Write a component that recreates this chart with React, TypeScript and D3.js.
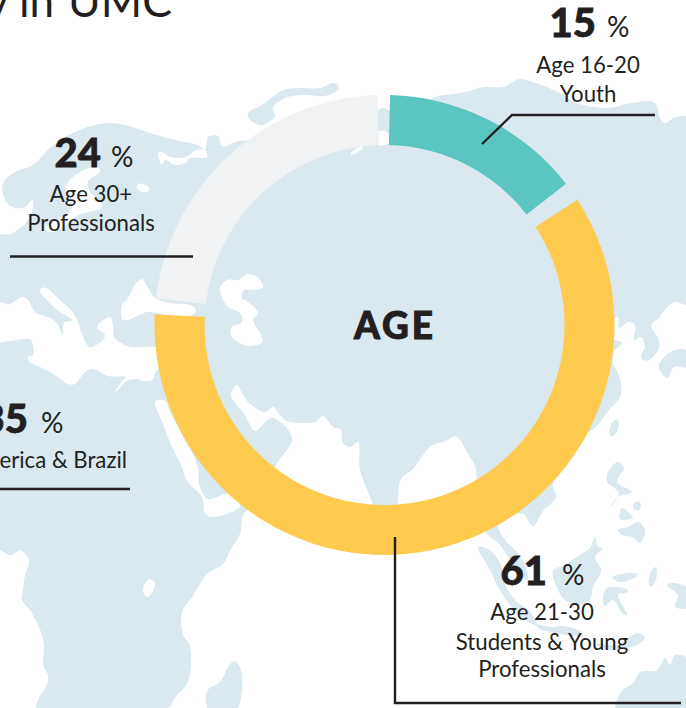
import React from "react";
import * as d3 from "d3";

// ---- chart data ----
const segmentNames = ["Age 16-20", "Age 21-30", "Age 30+"];
const segmentShares = [15, 61, 24];
const segmentColors = ["#5bc5c0", "#fecb4f", "#f1f2f4"];

const centerLabel = "AGE";
const titleWords = ["y", "in", "UMC"];

type P = [number, number];
const W = 686, H = 708;
const INK = "#231f20";
const LAND = "#dae9f0";
const BODY = "Lato, 'Noto Sans', sans-serif";

// ---- decorative world map backdrop, traced in page pixels ----
const landShapes: P[][] = [
  [[3,183],[15,172],[33,165],[48,150],[65,137],[95,125],[120,124],[150,133],[175,140],[197,145],[205,149],[208,137],[218,136],[222,146],[240,141],[270,140],[350,120],[378,110],[383,108],[395,112],[420,105],[435,97],[466,92],[483,87],[503,87],[520,79],[536,83],[560,93],[576,103],[610,108],[626,104],[655,103],[660,118],[665,123],[676,117],[690,118],[690,304],[674,302],[663,312],[659,318],[651,325],[658,338],[659,348],[649,360],[643,360],[641,355],[645,347],[641,337],[634,340],[635,325],[628,322],[619,328],[618,317],[612,319],[600,325],[600,340],[614,340],[622,343],[614,352],[613,363],[619,375],[621,395],[609,410],[596,427],[586,435],[553,484],[556,497],[543,511],[533,526],[523,514],[510,515],[498,524],[505,540],[515,550],[525,565],[528,580],[520,575],[510,560],[500,545],[488,535],[470,515],[395,522],[300,520],[246,511],[240,534],[230,551],[223,564],[207,574],[193,596],[182,612],[183,634],[190,647],[188,682],[177,695],[163,712],[37,712],[38,700],[47,685],[48,675],[43,665],[44,650],[42,635],[30,610],[22,600],[23,590],[25,575],[29,560],[20,550],[12,555],[5,553],[-4,544],[-4,238],[13,233],[28,220],[33,207],[32,200],[25,207],[15,208],[5,200]],
  [[248,113],[262,105],[275,95],[283,90],[300,88],[320,88],[333,83],[338,85],[338,90],[325,96],[305,95],[285,98],[273,108],[275,117],[268,122],[263,125],[250,120]],
  [[478,547],[488,549],[500,563],[505,585],[515,600],[530,612],[537,625],[525,620],[510,605],[497,585],[490,570]],
  [[535,624],[550,627],[563,626],[580,631],[583,636],[560,634],[540,629]],
  [[596,644],[618,645],[628,638],[638,633],[645,638],[637,645],[627,648],[610,650]],
  [[595,537],[598,547],[603,548],[595,557],[601,570],[593,587],[590,600],[578,605],[565,600],[558,590],[553,571],[565,565],[578,556],[590,548]],
  [[612,577],[635,573],[637,576],[620,582]],
  [[603,603],[607,588],[628,590],[627,593],[618,594],[627,615],[622,613],[613,600],[605,606]],
  [[618,462],[624,468],[617,482],[632,492],[618,497],[608,510],[619,493],[607,482],[608,472]],
  [[622,508],[633,518],[620,519]],
  [[618,530],[628,527],[638,522],[645,530],[640,543],[632,537],[622,535]],
  [[667,585],[675,583],[690,590],[690,607],[675,607],[678,595]],
  [[617,712],[620,693],[633,683],[640,672],[657,670],[665,658],[670,665],[675,655],[690,660],[690,712]],
  [[659,365],[674,350],[690,352],[690,367],[674,367],[668,378],[663,375]],
  [[235,661],[242,674],[235,712],[210,712],[207,691],[220,682],[230,664]],
  [[42,335],[50,333],[57,338],[57,344],[52,345]],
];
const landOvals: [number, number, number, number, number][] = [
  [22, 322, 4.5, 6, 0],
  [637, 506, 4, 4.5, 0],
  [653, 577, 3.5, 10, 15],
  [614, 428, 4, 9, 20],
];

const seaShapes: P[][] = [
  [[-4,303],[10,304],[22,297],[28,300],[35,312],[50,318],[58,325],[63,335],[64,323],[72,320],[60,312],[50,303],[40,291],[42,288],[46,288],[60,300],[74,314],[90,347],[105,336],[97,327],[110,317],[113,325],[114,337],[130,347],[140,347],[158,348],[175,360],[157,370],[152,380],[143,381],[135,379],[125,382],[118,390],[115,392],[123,380],[126,377],[108,376],[92,369],[85,372],[75,384],[68,384],[55,375],[40,367],[30,362],[28,357],[33,355],[31,340],[23,339],[10,341],[-4,341]],
  [[142,279],[137,282],[128,298],[122,305],[123,320],[140,315],[147,312],[170,315],[190,316],[196,310],[190,305],[170,303],[155,298],[148,288]],
  [[97,167],[100,172],[88,181],[90,192],[98,199],[102,207],[90,212],[78,215],[65,226],[50,232],[45,228],[62,218],[72,208],[70,195],[65,188],[70,180],[80,172]],
  [[158,153],[162,152],[170,157],[185,157],[197,150],[205,150],[207,157],[190,158],[185,163],[175,165],[165,160],[162,165]],
  [[220,288],[227,280],[238,280],[248,274],[257,277],[263,287],[253,290],[244,290],[242,298],[248,302],[258,313],[253,320],[260,333],[262,342],[250,346],[238,342],[231,335],[232,327],[242,322],[240,313],[228,307],[222,297]],
  [[237,385],[242,393],[248,402],[265,412],[273,407],[280,415],[287,421],[315,422],[323,416],[333,427],[341,430],[343,443],[350,447],[358,442],[360,470],[373,505],[378,530],[290,530],[268,500],[275,467],[292,438],[272,418],[255,431],[250,425],[245,415],[237,405],[231,395]],
  [[398,504],[401,479],[413,469],[431,446],[446,441],[456,436],[468,454],[475,466],[476,490],[470,518],[400,530]],
  [[155,401],[165,401],[170,412],[180,431],[197,464],[200,487],[208,499],[228,494],[240,506],[213,517],[205,514],[202,497],[187,481],[182,467],[172,447],[163,424]],
  [[378,132],[385,131],[389,135],[389,143],[378,145]],
  [[350,155],[355,149],[363,147],[358,152]],
  [[150,579],[155,584],[148,597],[144,594],[144,585]],
];
const seaOvals: [number, number, number, number, number][] = [[143, 188, 6.5, 4, 20]];

const smooth = d3.line<P>().curve(d3.curveCatmullRomClosed.alpha(0.5));

// ---- donut ----
const cx = 384.5, cy = 325, rOuter = 230, rInner = 180;
const rad = Math.PI / 180;
// how far each slice is trimmed at its start and end, in degrees
const startTrim = [1.4, 3, 3.1];
const endTrim = [1.9, 1, 1.8];
const arcs = d3.pie<number>().sort(null)(segmentShares);
const arcGen = d3.arc<any>().innerRadius(rInner).outerRadius(rOuter);

// ---- callouts ----
const leaders: P[][] = [
  [[482,144],[512,115],[655,115]],
  [[10,256.5],[193,256.5]],
  [[-4,489],[130,489]],
  [[395,537],[395,703],[681,703]],
];
const leaderLine = d3.line<P>();

function Num({ x, y, v, px }: { x: number; y: number; v: string; px: number }) {
  return (
    <g fill={INK}>
      <text x={x} y={y} fontFamily={BODY} fontWeight={900} fontSize={40} stroke={INK} strokeWidth={0.8} textAnchor="end">{v}</text>
      <text x={px} y={y} fontFamily={BODY} fontWeight={400} fontSize={28}>%</text>
    </g>
  );
}
function Lab({ x, y, t, anchor = "middle" }: { x: number; y: number; t: string; anchor?: string }) {
  return <text x={x} y={y} fontFamily={BODY} fontSize={22.2} fill={INK} textAnchor={anchor as any}>{t}</text>;
}
const titleStyle = { fontFamily: BODY, fontWeight: 400, fontSize: 44, fill: INK };

export default function App() {
  return (
    <svg width={W} height={H} viewBox={`0 0 ${W} ${H}`} style={{ position: "absolute", left: 0, top: 0, display: "block", background: "#fff" }}>
      <g fill={LAND}>
        {landShapes.map((s, i) => <path key={i} d={smooth(s) as string} />)}
        {landOvals.map(([x, y, a, b, r], i) => <ellipse key={i} cx={x} cy={y} rx={a} ry={b} transform={`rotate(${r} ${x} ${y})`} />)}
      </g>
      <g fill="#fff">
        {seaShapes.map((s, i) => <path key={i} d={smooth(s) as string} />)}
        {seaOvals.map(([x, y, a, b, r], i) => <ellipse key={i} cx={x} cy={y} rx={a} ry={b} transform={`rotate(${r} ${x} ${y})`} />)}
      </g>

      <text x={-14} y={17} {...titleStyle}>{titleWords[0]}</text>
      <text x={19} y={17} {...titleStyle}>{titleWords[1]}</text>
      <text x={68} y={17} {...titleStyle} textLength={104} lengthAdjust="spacingAndGlyphs">{titleWords[2]}</text>

      <g transform={`translate(${cx},${cy})`}>
        {arcs.map((a, i) => (
          <path key={segmentNames[i]} fill={segmentColors[i]}
            d={arcGen({ startAngle: a.startAngle + startTrim[i] * rad, endAngle: a.endAngle - endTrim[i] * rad }) as string} />
        ))}
      </g>

      <text x={395} y={338.5} textAnchor="middle" fontFamily={BODY} fontWeight={900} fontSize={37} stroke={INK} strokeWidth={0.9} letterSpacing={3} fill={INK}>{centerLabel}</text>

      <g fill="none" stroke={INK} strokeWidth={2.4}>
        {leaders.map((l, i) => <path key={i} d={leaderLine(l) as string} />)}
      </g>

      <Num x={596} y={37} v={`${segmentShares[0]}`} px={607} />
      <Lab x={588} y={73} t={segmentNames[0]} />
      <Lab x={588} y={102} t="Youth" />

      <Num x={101} y={167} v={`${segmentShares[2]}`} px={111} />
      <Lab x={91} y={201.5} t={segmentNames[2]} />
      <Lab x={91} y={231} t="Professionals" />

      <Num x={28} y={433} v="35" px={41} />
      <Lab x={127} y={468} t="America & Brazil" anchor="end" />

      <Num x={547} y={585} v={`${segmentShares[1]}`} px={562} />
      <Lab x={542} y={620} t={segmentNames[1]} />
      <Lab x={542} y={650} t="Students & Young" />
      <Lab x={542} y={677} t="Professionals" />
    </svg>
  );
}
